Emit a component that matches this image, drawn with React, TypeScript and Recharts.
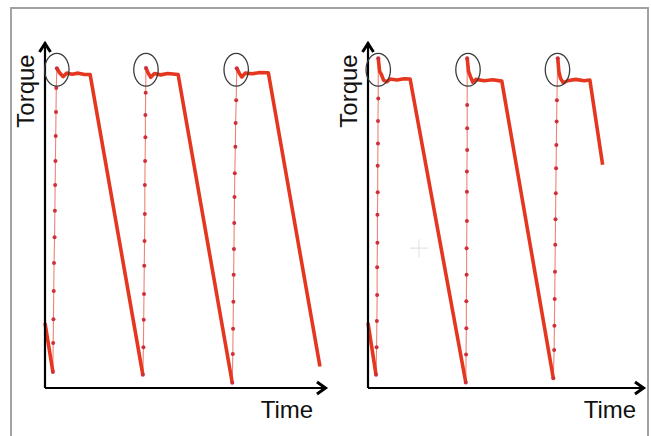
import { LineChart, Line, XAxis, YAxis, ReferenceDot, Label } from 'recharts'

type Pt = [number, number | null]

// torque traces: [time %, torque %], null = pen lift
const leftLoad: Pt[] = [
  [0, 18.8], [2.8, 4.6], [2.8, null],
  [4.2, 92.4], [5.1, 91.2], [6.4, 90.0], [7.7, 91.0], [9.6, 90.7], [11.8, 91.0], [14.0, 90.6], [16.0, 90.6],
  [34.7, 3.8], [34.7, null],
  [35.8, 92.5], [36.6, 91.0], [37.5, 89.8], [38.8, 90.9], [41.0, 90.5], [43.5, 90.9], [47.2, 90.6],
  [66.4, 1.5], [66.4, null],
  [68.0, 92.4], [68.9, 91.0], [69.8, 89.9], [71.0, 91.0], [73.5, 90.8], [76.2, 91.2], [79.2, 91.1],
  [97.5, 6.2],
]
const leftRise: Pt[] = [
  [2.8, 4.6], [2.9, 13.0], [3.0, 19.9], [3.1, 28.0], [3.2, 36.1], [3.4, 43.6], [3.5, 51.2],
  [3.6, 58.7], [3.7, 65.6], [3.8, 72.8], [3.9, 79.8], [4.0, 86.7], [4.2, 92.4], [4.2, null],
  [34.7, 3.8], [34.9, 11.8], [35.0, 19.7], [35.1, 27.2], [35.2, 35.3], [35.3, 42.5], [35.4, 50.3],
  [35.4, 58.7], [35.5, 65.6], [35.6, 72.5], [35.6, 78.9], [35.7, 85.3], [35.8, 92.5], [35.8, null],
  [66.4, 1.5], [66.6, 9.8], [66.7, 17.1], [66.8, 24.9], [66.9, 32.7], [67.0, 40.2], [67.1, 47.7],
  [67.2, 55.2], [67.3, 62.1], [67.5, 69.7], [67.6, 76.6], [67.8, 83.2], [68.0, 92.4],
]
const leftMarks: [number, number][] = [[4.2, 92], [35.8, 92], [67.8, 92]]

const rightLoad: Pt[] = [
  [0, 18.8], [2.9, 3.8], [2.9, null],
  [3.7, 95.3], [4.2, 91.5], [4.9, 90.5], [5.6, 89.0], [6.75, 88.5], [7.9, 89.3], [10.5, 89.0], [13.0, 89.4], [15.2, 89.3],
  [35.3, 1.6], [35.3, null],
  [35.8, 95.3], [36.3, 91.5], [37.0, 90.0], [37.8, 88.4], [39.0, 89.2], [42.0, 88.8], [45.0, 89.1], [48.3, 88.7],
  [66.9, 2.8], [66.9, null],
  [68.5, 95.3], [68.9, 91.5], [69.5, 89.5], [70.5, 88.2], [72.0, 88.8], [75.0, 89.2], [78.0, 88.8], [80.1, 89.0],
  [84.7, 64.5],
]
const rightRise: Pt[] = [
  [2.9, 3.8], [3.1, 11.8], [3.2, 19.4], [3.3, 26.9], [3.3, 34.9], [3.4, 42.0], [3.4, 50.1],
  [3.5, 56.6], [3.5, 64.2], [3.6, 70.7], [3.6, 77.2], [3.7, 83.7], [3.7, 95.3], [3.7, null],
  [35.3, 1.6], [35.4, 9.7], [35.5, 17.3], [35.5, 25.1], [35.6, 32.7], [35.6, 40.4], [35.7, 48.3],
  [35.7, 56.7], [35.7, 62.6], [35.8, 68.8], [35.8, 75.1], [35.8, 81.8], [35.8, 95.3], [35.8, null],
  [66.9, 2.8], [67.2, 11.0], [67.3, 18.0], [67.4, 25.7], [67.5, 33.6], [67.6, 41.4], [67.7, 48.8],
  [67.8, 56.3], [67.9, 63.5], [68.0, 70.2], [68.1, 77.0], [68.2, 83.2], [68.5, 95.3],
]
const rightMarks: [number, number][] = [[3.7, 92], [36.1, 92], [68.4, 92]]
const rightCursor: [number, number] = [18.4, 40.4]

const X_LABEL = 'Time'
const Y_LABEL = 'Torque'

const RED = '#e5371f'
const FONT = '"Liberation Sans", Arial, sans-serif'

const rows = (pts: Pt[]) => pts.map(([t, v]) => ({ t, v }))

const Ring = (p: any) => (
  <ellipse cx={p.cx} cy={p.cy} rx={12.2} ry={16.4} fill="none" stroke="#3a3a3a" strokeWidth={1.3} />
)
const ArrowUp = (p: any) => (
  <path d={`M${p.cx - 5.5},${p.cy + 10} L${p.cx},${p.cy + 1.5} L${p.cx + 5.5},${p.cy + 10}`}
    fill="none" stroke="#000" strokeWidth={3} />
)
const ArrowRight = (p: any) => (
  <path d={`M${p.cx - 10},${p.cy - 6} L${p.cx - 1.5},${p.cy} L${p.cx - 10},${p.cy + 6}`}
    fill="none" stroke="#000" strokeWidth={3} />
)
const Cross = (p: any) => (
  <path d={`M${p.cx - 9},${p.cy} H${p.cx + 9} M${p.cx},${p.cy - 9} V${p.cy + 9}`}
    stroke="#e4e4e4" strokeWidth={1.2} />
)

const TorqueLabel = ({ viewBox }: any) => (
  <text transform={`translate(${viewBox.x + viewBox.width - 11},${viewBox.y + 49}) rotate(-90)`}
    textAnchor="middle" fontSize={24} fill="#111" fontFamily={FONT}>{Y_LABEL}</text>
)
const TimeLabel = ({ viewBox }: any) => (
  <text x={viewBox.x + 242} y={viewBox.y + 30} textAnchor="middle" fontSize={24} fill="#111" fontFamily={FONT}>
    {X_LABEL}
  </text>
)

function Panel({ load, rise, marks, cursor, width, margin }: {
  load: Pt[]; rise: Pt[]; marks: [number, number][]; cursor?: [number, number]
  width: number; margin: { top: number; right: number; bottom: number; left: number }
}) {
  return (
    <LineChart width={width} height={436} margin={margin}>
      <XAxis type="number" dataKey="t" domain={[0, 100]} height={1} tick={false} tickLine={false}
        axisLine={{ stroke: '#000', strokeWidth: 2.2 }}>
        <Label content={TimeLabel} />
      </XAxis>
      <YAxis type="number" domain={[0, 100]} width={1} tick={false} tickLine={false}
        axisLine={{ stroke: '#000', strokeWidth: 2.2 }}>
        <Label content={TorqueLabel} />
      </YAxis>
      <Line data={rows(rise)} dataKey="v" type="linear" stroke="#ef8276" strokeWidth={1.1}
        dot={{ r: 2, fill: '#cf2f3a', stroke: 'none' }} isAnimationActive={false} />
      <Line data={rows(load)} dataKey="v" type="linear" stroke={RED} strokeWidth={3.6}
        strokeLinejoin="round" dot={false} isAnimationActive={false} />
      {marks.map(([t, v], i) => (
        <ReferenceDot key={i} x={t} y={v} shape={Ring} />
      ))}
      {cursor && <ReferenceDot x={cursor[0]} y={cursor[1]} shape={Cross} />}
      <ReferenceDot x={0} y={100} shape={ArrowUp} />
      <ReferenceDot x={100} y={0} shape={ArrowRight} />
    </LineChart>
  )
}

export default function App() {
  return (
    <div style={{ position: 'absolute', left: 0, top: 0, width: 651, height: 436, overflow: 'hidden', background: '#fff' }}>
      <div style={{
        position: 'absolute', left: 10, top: 7, width: 639, height: 450,
        border: '2px solid #a2a2a2', boxSizing: 'border-box',
      }} />
      <div style={{ position: 'absolute', left: 0, top: 0 }}>
        <Panel load={leftLoad} rise={leftRise} marks={leftMarks} width={330}
          margin={{ top: 42, right: 3, bottom: 47, left: 44 }} />
      </div>
      <div style={{ position: 'absolute', left: 330, top: 0 }}>
        <Panel load={rightLoad} rise={rightRise} marks={rightMarks} cursor={rightCursor} width={321}
          margin={{ top: 42, right: 6, bottom: 47, left: 37 }} />
      </div>
    </div>
  )
}
